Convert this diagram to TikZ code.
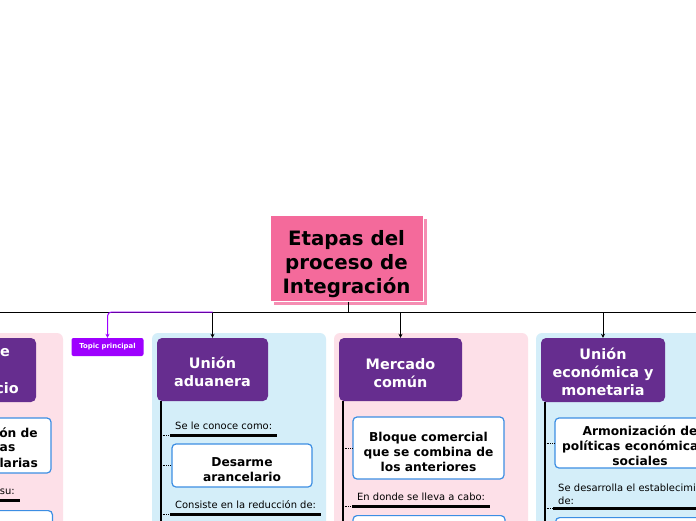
\documentclass[tikz,border=0pt]{standalone}
\usepackage{fontspec}
\setmainfont{DejaVu Sans}
\usetikzlibrary{arrows.meta, positioning, calc}
\definecolor{rootpink}{HTML}{F46A9B}
\definecolor{rootshade}{HTML}{F58DB2}
\definecolor{headpurple}{HTML}{662D8F}
\definecolor{panelpink}{HTML}{FDE0E8}
\definecolor{panelblue}{HTML}{D4EEF9}
\definecolor{boxblue}{HTML}{3C8EE3}
\definecolor{topicviolet}{HTML}{9E00FF}

\begin{document}
\begin{tikzpicture}[x=1pt, y=-1pt,
    headtext/.style={text=white, align=center, inner sep=0pt,
      font=\fontsize{14.4}{18}\selectfont\bfseries},
    headbox/.style={headtext, rectangle, rounded corners=5pt, fill=headpurple},
    boxtext/.style={align=center, inner sep=0pt,
      font=\fontsize{12.25}{15}\selectfont\bfseries},
    itembox/.style={boxtext, rectangle, rounded corners=4pt, fill=white,
      draw=boxblue, line width=1.2pt},
    tag/.style={font=\fontsize{9.94}{13}\selectfont, inner xsep=5pt,
      inner ysep=2.5pt, text depth=2.5pt},
    underline/.style={line width=3pt},
    spine/.style={line width=2pt},
    twig/.style={densely dotted, line width=0.8pt},
    feed/.style={line width=1pt, -{Stealth[length=4pt, width=4pt]}}]
    \useasboundingbox (0,0) rectangle (696,520);
    \clip (0,0) rectangle (696,520);
    \fill[white] (0,0) rectangle (696,520);
    % panels
    \fill[panelpink, rounded corners=6pt] (-120,333) rectangle (63,540);
    \fill[panelblue, rounded corners=6pt] (152,333) rectangle (326,540);
    \fill[panelpink, rounded corners=6pt] (334,333) rectangle (528,540);
    \fill[panelblue, rounded corners=6pt] (536,333) rectangle (760,540);
    % root
    \fill[rootshade] (274,219) rectangle (427,305);
    \node[draw=white, line width=1pt, fill=rootpink, minimum width=153pt,
      minimum height=86pt, align=center, inner sep=0pt, text height=75pt,
      font=\fontsize{19.8}{24}\selectfont\bfseries] (root) at (346.5,258)
      {Etapas del\\proceso de\\Integración};
    \coordinate (bus) at (348,312);
    \draw[line width=1pt] (bus |- root.south) -- (bus);
    \draw[line width=1pt] (0,312) -- (696,312);
    % headers
    \node[headbox, minimum width=126pt, minimum height=64pt] (zonahead)
      at (-27,370) {};
    \node[headtext, anchor=east] (zonaend1) at (10,353) {e};
    \node[headtext, anchor=east] (zonaend3) at (19,388) {cio};
    \node[headbox, minimum width=111pt, minimum height=63pt,
      text height=35pt] (aduhead) at (212.5,369.5) {Unión\\aduanera};
    \node[headbox, minimum width=123pt, minimum height=63pt,
      text height=37pt] (merchead) at (400.5,369.5) {Mercado\\común};
    \node[headbox, minimum width=124pt, minimum height=64pt,
      text height=51pt] (econhead) at (603,370) {Unión\\económica y\\monetaria};
    \node[rectangle, rounded corners=2pt, fill=topicviolet, text=white,
      minimum width=72pt, minimum height=18pt, inner sep=0pt,
      font=\fontsize{6.9}{8}\selectfont\bfseries] (topic) at (107.5,347)
      {Topic principal};
    \foreach \h in {aduhead, merchead, econhead}
      \draw[feed] (\h.north |- bus) -- (\h.north);
    \draw[feed, topicviolet, rounded corners=4pt]
      (aduhead.north |- bus) -- (topic.north |- bus) -- (topic.north);
    % spines
    \foreach \h/\s in {aduhead/aduspine, merchead/mercspine, econhead/econspine}{%
      \coordinate (\s) at ($(\h.south west)+(4,0)$);
      \draw[spine] (\s) -- ++(0,140);}
    % zona
    \node[itembox, minimum width=140pt, minimum height=55pt] (zonabox1)
      at (-19,445.5) {};
    \node[boxtext, anchor=east] (zonafrag1) at (38,433) {ón de};
    \node[boxtext, anchor=east] (zonafrag2) at (15.5,448) {as};
    \node[boxtext, anchor=east] (zonafrag3) at (38,463) {larias};
    \node[tag, anchor=south east, text width=60pt, align=right] (zonatag1)
      at (20,500) {su:};
    \draw[underline] (zonatag1.south west) -- (zonatag1.south east);
    \node[itembox, minimum width=140pt, minimum height=40pt, anchor=north east]
      (zonabox2) at (53,510) {};
    % aduana
    \node[tag, anchor=south west] (adutag1) at (170,435) {Se le conoce como:};
    \draw[underline] (adutag1.south west) -- (adutag1.south east);
    \node[itembox, minimum width=140pt, minimum height=43pt,
      text height=33pt] (adubox1) at (242,465.5) {Desarme\\arancelario};
    \node[tag, anchor=south west] (adutag2) at (170,514)
      {Consiste en la reducción de:};
    \draw[underline] (adutag2.south west) -- (adutag2.south east);
    \draw[twig] (aduspine |- adutag1.south west) -- (adutag1.south west);
    \draw[twig] (aduspine |- adubox1.west) -- (adubox1.west);
    \draw[twig] (aduspine |- adutag2.south west) -- (adutag2.south west);
    % mercado
    \node[itembox, minimum width=151pt, minimum height=62pt,
      text height=46.5pt] (mercbox1) at (428.5,448)
      {Bloque comercial\\que se combina de\\los anteriores};
    \node[tag, anchor=south west] (merctag1) at (352,506)
      {En donde se lleva a cabo:};
    \draw[underline] (merctag1.south west) -- (merctag1.south east);
    \node[itembox, minimum width=152pt, minimum height=40pt, anchor=north]
      (mercbox2) at (429,515) {};
    \draw[twig] (mercspine |- mercbox1.west) -- (mercbox1.west);
    \draw[twig] (mercspine |- merctag1.south west) -- (merctag1.south west);
    % economica
    \node[itembox, minimum width=170pt, minimum height=50pt,
      text height=44.5pt] (econbox1) at (640,443)
      {Armonización de\\políticas económica\phantom{s y}\\sociales};
    \node[tag, anchor=south west, text width=200pt, align=left,
      text depth=14pt] (econtag1)
      at (553,508) {Se desarrolla el establecimi\\de:};
    \draw[underline] (econtag1.south west) -- (econtag1.south east);
    \node[itembox, minimum width=170pt, minimum height=40pt, anchor=north west]
      (econbox2) at (555,517) {};
    \draw[twig] (econspine |- econbox1.west) -- (econbox1.west);
    \draw[twig] (econspine |- econtag1.south west) -- (econtag1.south west);
  \end{tikzpicture}
\end{document}
